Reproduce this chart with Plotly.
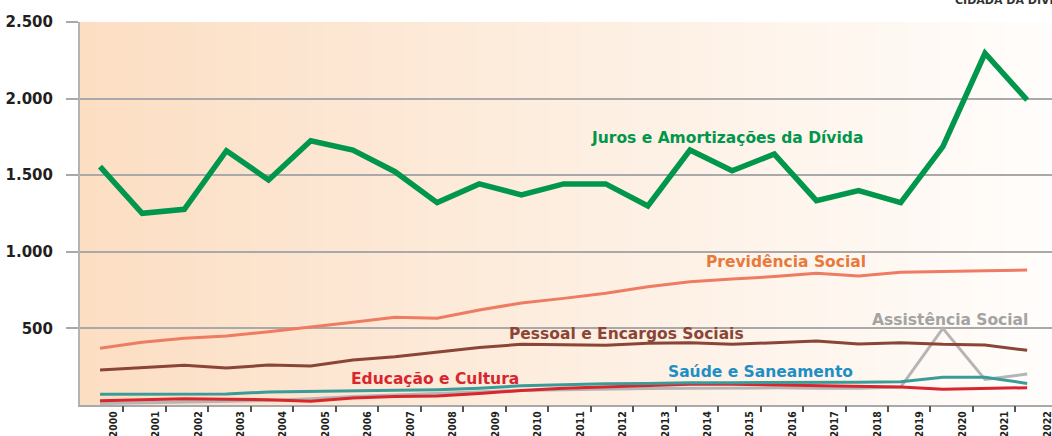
import plotly.graph_objects as go

years = list(range(2000, 2023))
year_labels = [str(y) for y in years]

juros = [1556, 1251, 1277, 1660, 1469, 1725, 1664, 1523, 1321, 1443, 1371, 1443,
         1443, 1299, 1664, 1529, 1638, 1334, 1399, 1321, 1686, 2296, 1991]
previdencia = [370, 409, 435, 450, 478, 507, 540, 572, 566, 620, 666, 696,
               729, 772, 805, 822, 838, 860, 842, 866, 873, 877, 881]
pessoal = [228, 244, 259, 241, 261, 255, 294, 315, 344, 376, 396, 395,
           390, 403, 407, 396, 407, 418, 398, 407, 396, 392, 357]
assistencia = [10, 15, 20, 25, 30, 40, 55, 65, 75, 85, 95, 100,
               105, 108, 110, 112, 112, 110, 110, 117, 500, 167, 202]
saude = [70, 70, 70, 72, 85, 90, 93, 96, 100, 110, 125, 132,
         138, 141, 146, 146, 146, 146, 148, 152, 181, 181, 141]
educacao = [28, 33, 41, 37, 35, 25, 45, 55, 58, 75, 95, 110,
            118, 124, 135, 135, 130, 125, 120, 117, 102, 108, 113]

y_ticks = [500, 1000, 1500, 2000, 2500]
y_tick_text = ["500", "1.000", "1.500", "2.000", "2.500"]

# (values, line colour, width) drawn back to front
series = [
    (assistencia, "#b5b5b5", 3),
    (educacao, "#d7262e", 3),
    (saude, "#3a9b98", 3),
    (pessoal, "#8a4537", 3),
    (previdencia, "#ee7b62", 3),
    (juros, "#00964b", 5.5),
]

# (text, x, y, colour)
labels = [
    ("Juros e Amortizações da Dívida", 2014.88, 1741, "#00964b"),
    ("Previdência Social", 2016.27, 935, "#e8793a"),
    ("Assistência Social", 2020.17, 555, "#a3a3a3"),
    ("Pessoal e Encargos Sociais", 2012.49, 463, "#8b4536"),
    ("Saúde e Saneamento", 2015.68, 218, "#1e8fc4"),
    ("Educação e Cultura", 2007.95, 170, "#d7262e"),
]

FONT = "DejaVu Sans"

fig = go.Figure()
for vals, color, width in series:
    fig.add_trace(go.Scatter(x=years, y=vals, mode="lines",
                             line=dict(color=color, width=width),
                             showlegend=False, hoverinfo="skip"))

# background gradient (peach -> white)
def lerp(a, b, t):
    return tuple(round(a[i] + (b[i] - a[i]) * t) for i in range(3))

c0, c1, c2 = (252, 222, 195), (253, 238, 224), (255, 253, 251)
n = 120
shapes = []
for k in range(n):
    t = k / (n - 1)
    c = lerp(c0, c1, t / 0.5) if t < 0.5 else lerp(c1, c2, (t - 0.5) / 0.5)
    shapes.append(dict(type="rect", xref="paper", yref="paper",
                       x0=k / n, x1=(k + 1.5) / n, y0=0, y1=1,
                       fillcolor="rgb(%d,%d,%d)" % c, line=dict(width=0),
                       layer="below"))

annotations = []
for text, x, y, color in labels:
    annotations.append(dict(text=text, x=x, y=y, xref="x", yref="y",
                            showarrow=False, xanchor="center", yanchor="middle",
                            font=dict(family=FONT, size=15.5, color=color, weight="bold")))
annotations.append(dict(text="CIDADÃ DA DÍVIDA", xref="paper", yref="paper",
                        x=0.898, y=1.0574, xanchor="left", yanchor="middle",
                        showarrow=False,
                        font=dict(family=FONT, size=11, color="#333333", weight="bold")))

fig.update_layout(
    width=1052, height=436,
    margin=dict(l=80, r=0, t=22, b=31, autoexpand=False),
    paper_bgcolor="white",
    plot_bgcolor="rgba(0,0,0,0)",
    shapes=shapes,
    annotations=annotations,
    xaxis=dict(range=[1999.525, 2022.59], showgrid=False, zeroline=False,
               showline=True, linecolor="#a9a9a9", linewidth=2, automargin=False,
               ticks="", showticklabels=False),
    xaxis2=dict(range=[1999.216, 2022.113], overlaying="x", anchor="y", side="bottom",
                showgrid=False, zeroline=False, showline=False, automargin=False,
                tickvals=years, ticktext=year_labels, tickangle=-90, ticks="",
                ticklabelstandoff=3, ticklabeloverflow="allow",
                tickfont=dict(family="Liberation Sans Narrow, Arial Narrow, DejaVu Sans Condensed",
                              size=10.5, color="#231f20", weight="bold")),
    xaxis3=dict(range=[1998.988, 2021.859], overlaying="x", anchor="y", side="bottom",
                showgrid=False, zeroline=False, showline=False, automargin=False,
                tickvals=years, ticks="outside", ticklen=6, tickwidth=1.5,
                tickcolor="#555555", showticklabels=False),
    yaxis=dict(range=[0, 2500], tickvals=y_ticks, ticktext=y_tick_text,
               showgrid=True, gridcolor="#a9a9a9", gridwidth=1.5, automargin=False,
               zeroline=False, showline=True, linecolor="#b3b3b3", linewidth=2,
               ticks="outside", ticklen=12, tickwidth=1.5, tickcolor="#a9a9a9",
               ticklabelstandoff=10,
               tickfont=dict(family=FONT, size=15, color="#231f20", weight="bold")),
)

# invisible anchors so the overlay axes render
fig.add_trace(go.Scatter(x=[years[0]], y=[0], xaxis="x2", mode="markers",
                         marker=dict(opacity=0), showlegend=False, hoverinfo="skip"))
fig.add_trace(go.Scatter(x=[years[0]], y=[0], xaxis="x3", mode="markers",
                         marker=dict(opacity=0), showlegend=False, hoverinfo="skip"))

fig.write_html("out.html", config={"displayModeBar": False},
               post_script="document.body.style.margin='0';document.body.style.overflow='hidden';")
